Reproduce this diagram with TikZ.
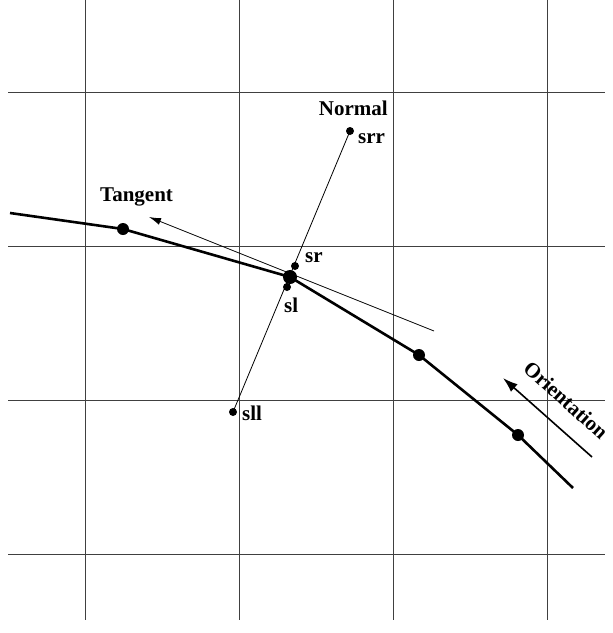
\documentclass[tikz,border=0pt]{standalone}
\usepackage{fontspec}
\setmainfont{Liberation Serif}
\usetikzlibrary{arrows.meta}

\begin{document}
\begin{tikzpicture}[x=1pt,y=-1pt,font=\fontsize{21}{24}\selectfont\bfseries,
 grid/.style={black!75,line width=0.8pt},
 curve/.style={line width=2.6pt},
 bigdot/.style={circle,fill,inner sep=0pt,minimum size=12pt},
 smalldot/.style={circle,fill,inner sep=0pt,minimum size=8pt},
 lab/.style={inner sep=0pt},
 arr/.style={-{Latex[length=12pt,width=7pt]},line width=0.8pt}]
\useasboundingbox (0,0) rectangle (613,633);
% grid
\draw[grid] (85,0)--(85,620); \draw[grid] (239,0)--(239,620);
\draw[grid] (393,0)--(393,620); \draw[grid] (547,0)--(547,620);
\draw[grid] (8,92)--(605,92); \draw[grid] (8,246)--(605,246);
\draw[grid] (8,400)--(605,400); \draw[grid] (8,554)--(605,554);
% curve
\coordinate (c0) at (10,213);
\node[bigdot] (p1) at (123,229) {};
\node[bigdot,minimum size=14pt] (p2) at (290,277) {};
\node[bigdot] (p3) at (419,355) {};
\node[bigdot] (p4) at (518,435) {};
\coordinate (c5) at (573,488);
\draw[curve] (c0)--(p1.center)--(p2.center)--(p3.center)--(p4.center)--(c5);
% tangent
\coordinate (tend) at (434,331); \coordinate (ttip) at (149,217);
\draw[arr] (tend)--(ttip);
% normal
\node[smalldot] (srr) at (350,131) {};
\node[smalldot] (sr) at (295,266) {};
\node[smalldot] (sl) at (287,287) {};
\node[smalldot] (sll) at (233,412) {};
\draw[line width=0.8pt] (srr.center)--(sll.center);
% labels
\node[lab,anchor=base west] (tlab) at (100,201) {Tangent};
\node[lab,anchor=base east] (nlab) at (388,115) {Normal};
\node[lab,anchor=base west] (srrlab) at (358,143) {srr};
\node[lab,anchor=base west] (srlab) at (305,262) {sr};
\node[lab,anchor=base west] (sllab) at (284,312) {sl};
\node[lab,anchor=base west] (slllab) at (242,420) {sll};
% orientation
\coordinate (otail) at (592,457); \coordinate (otip) at (503,378);
\draw[-{Latex[length=15pt,width=10pt]},line width=1.6pt] (otail)--(otip);
\node[lab,rotate=-42] (olab) at (566,400) {Orientation};
\end{tikzpicture}
\end{document}
